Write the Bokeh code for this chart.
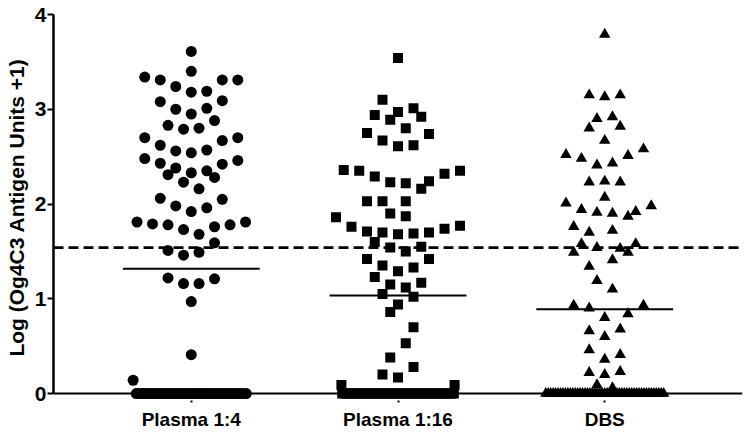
import numpy as np
from bokeh.plotting import figure
from bokeh.models import ColumnDataSource, Span, FixedTicker
from bokeh.embed import file_html
from bokeh.resources import INLINE

# ---------------- data ----------------
categories = ["Plasma 1:4", "Plasma 1:16", "DBS"]

plasma4_values = [3.61, 3.40, 3.34, 3.31, 3.24, 3.18, 3.19, 3.31, 3.31,
                  3.08, 3.00, 2.95, 3.01, 3.09, 2.83, 2.79, 2.80, 2.88,
                  2.70, 2.62, 2.56, 2.54, 2.57, 2.67, 2.70,
                  2.48, 2.43, 2.38, 2.31, 2.33, 2.35, 2.28, 2.42, 2.46,
                  2.23, 2.16, 2.06, 1.98, 1.92, 1.96, 2.05,
                  1.81, 1.79, 1.78, 1.73, 1.68, 1.76, 1.78, 1.81,
                  1.59, 1.51, 1.46, 1.49,
                  1.22, 1.16, 1.16, 1.21,
                  0.97, 0.41, 0.14]
plasma4_zero_count = 44

plasma16_values = [3.54, 3.10, 2.94, 2.97, 3.01, 2.89, 2.92, 2.75, 2.80, 2.74, 2.67, 2.61, 2.62,
                   2.36, 2.35, 2.29, 2.23, 2.22, 2.16, 2.24, 2.32, 2.35,
                   2.03, 2.03, 2.03, 1.90, 1.87, 1.86,
                   1.76, 1.71, 1.60, 1.70, 1.68, 1.69, 1.70, 1.74, 1.77,
                   1.54, 1.50, 1.55, 1.42, 1.42, 1.35, 1.29, 1.33,
                   1.23, 1.15, 1.12, 1.17, 1.05, 1.02, 0.94, 0.86,
                   0.70, 0.53, 0.38, 0.28, 0.20, 0.17, 0.09, 0.09]
plasma16_zero_count = 43

dbs_values = [3.79, 3.15, 3.13, 3.15, 2.90, 2.92, 2.80, 2.82, 2.67,
              2.52, 2.48, 2.41, 2.43, 2.51, 2.58, 2.23, 2.24, 2.23,
              2.07, 2.01, 1.94, 1.91, 1.90, 1.87, 1.92, 1.98,
              1.76, 1.70, 1.72, 1.58, 1.54, 1.53, 1.58, 1.49, 1.49, 1.41, 1.34,
              1.19, 1.10, 0.93, 0.90, 0.93, 0.80, 0.84, 0.66, 0.60, 0.68,
              0.46, 0.36, 0.41, 0.22, 0.20, 0.23, 0.09, 0.06]
dbs_zero_count = 49

cutoff_value = 1.54

# ---------------- layout (scatter column offsets, in half-steps) ----------------
plasma4_cols = [0, 0, -6, -4, -2, 0, 2, 4, 6,
                -4, -2, 0, 2, 4, -3, -1, 1, 3,
                -6, -4, -2, 0, 2, 4, 6,
                -6, -4, -2, -3, 0, 2, 3, 4, 6,
                -1, 1, -4, -2, 0, 2, 4,
                -7, -5, -3, -1, 1, 3, 5, 7,
                3, -3, -1, 1,
                -3, -1, 1, 3,
                0, 0, -7.5]
plasma16_cols = [0, -2, -3, 0, 2, -1, 3, -4, 1, 4, -2, 0, 2,
                 -7, -5, -3, -1, 1, 3, 4, 6, 8,
                 -4, -2, 1, -1, 1, -8,
                 -6, -4, -3, -2, 0, 2, 4, 6, 8,
                 -1, 1, 3, -4, 4, -2, 0, 2,
                 -3, -1, 1, 3, -2, 2, 0, -1,
                 2, 1, -1, 2, -2, 0, -7.3, 7.3]
dbs_cols = [0, -2, 0, 2, -1, 1, -2, 2, 0,
            -5, -3, -1, 1, 3, 5, -2, 0, 2,
            0, -5, -3, -1, 1, 3, 4, 6,
            -4, -2, 1, -3, -1, 2, 4, -4, 3, 1, -2,
            -1, 1, -4, -2, 5, 0, 3, -2, 0, 2,
            -2, 0, 2, -2, 0, 2, -1, 1]
zero_row_halfwidth = [7.1, 7.2, 7.6]

HALF_STEP = 0.0375
MEAN_HALF = 0.331

groups = [
    (plasma4_values, plasma4_cols, plasma4_zero_count, "circle", 11),
    (plasma16_values, plasma16_cols, plasma16_zero_count, "square", 10),
    (dbs_values, dbs_cols, dbs_zero_count, "triangle", 11.5),
]

p = figure(width=750, height=432,
           x_range=(0.3335, 3.6665), y_range=(-0.0737, 4.0),
           output_backend="svg", toolbar_location=None,
           min_border_left=53, min_border_right=8, min_border_top=14, min_border_bottom=31)
p.outline_line_color = None
p.xgrid.visible = False
p.ygrid.visible = False

# baseline (x axis line at y = 0) and cutoff line
p.add_layout(Span(location=0, dimension="width", line_color="black", line_width=2))
p.add_layout(Span(location=cutoff_value, dimension="width", line_color="black",
                  line_width=2.8, line_dash="10 5"))

mx0, mx1, my = [], [], []
for i, (vals, cols, nzero, marker, size) in enumerate(groups):
    center = i + 1
    zoff = np.linspace(-zero_row_halfwidth[i], zero_row_halfwidth[i], nzero)
    xs = [center + c * HALF_STEP for c in cols] + [center + z * HALF_STEP for z in zoff]
    ys = list(vals) + [0.0] * nzero
    src = ColumnDataSource(dict(x=xs, y=ys))
    p.scatter("x", "y", source=src, marker=marker, size=size,
              fill_color="black", line_color=None)
    mean = float(np.mean(ys))
    mx0.append(center - MEAN_HALF)
    mx1.append(center + MEAN_HALF)
    my.append(mean)

p.segment(x0=mx0, y0=my, x1=mx1, y1=my, line_color="black", line_width=2)

# x axis
xa = p.xaxis[0]
xa.ticker = FixedTicker(ticks=[1, 2, 3])
xa.major_label_overrides = {1: categories[0], 2: categories[1], 3: categories[2]}
xa.axis_line_color = None
xa.major_tick_in = 0
xa.major_tick_out = 2
xa.major_tick_line_width = 2
xa.minor_tick_line_color = None
xa.major_label_standoff = 6
xa.major_label_text_font = "Liberation Sans"
xa.major_label_text_font_style = "bold"
xa.major_label_text_font_size = "19px"
xa.major_label_text_color = "black"

# y axis
ya = p.yaxis[0]
ya.ticker = FixedTicker(ticks=[0, 1, 2, 3, 4])
ya.bounds = (0, 4)
ya.axis_line_width = 2.5
ya.axis_line_color = "black"
ya.major_tick_in = 0
ya.major_tick_out = 6
ya.major_tick_line_width = 2
ya.minor_tick_line_color = None
ya.major_label_standoff = 1
ya.major_label_text_font = "Liberation Sans"
ya.major_label_text_font_style = "bold"
ya.major_label_text_font_size = "21px"
ya.major_label_text_color = "black"
ya.axis_label = "Log (Og4C3 Antigen Units +1)"
ya.axis_label_text_font = "Liberation Sans"
ya.axis_label_text_font_style = "bold"
ya.axis_label_text_font_size = "21px"
ya.axis_label_text_color = "black"
ya.axis_label_standoff = 4

open("out.html", "w").write(file_html(p, INLINE))
